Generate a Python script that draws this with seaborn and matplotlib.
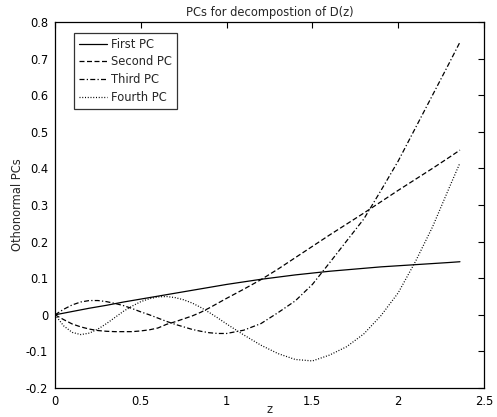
import matplotlib
matplotlib.use("Agg")
import matplotlib.pyplot as plt
from matplotlib.ticker import FuncFormatter
import seaborn as sns
import pandas as pd

# z grid of the read-off points
z = [0, 0.05, 0.1, 0.15, 0.2, 0.25, 0.3, 0.35, 0.4, 0.45, 0.5,
     0.55, 0.6, 0.65, 0.7, 0.75, 0.8, 0.85, 0.9, 0.95, 1.0,
     1.1, 1.2, 1.3, 1.4, 1.5, 1.6, 1.7, 1.8, 1.9, 2.0, 2.1, 2.2, 2.3, 2.36]

first_pc = [0, 0.0045, 0.009, 0.0135, 0.018, 0.022, 0.026, 0.0305, 0.035, 0.039, 0.043,
            0.047, 0.051, 0.055, 0.059, 0.063, 0.067, 0.071, 0.075, 0.079, 0.083,
            0.09, 0.097, 0.103, 0.109, 0.114, 0.119, 0.123, 0.127, 0.131, 0.134, 0.137, 0.14, 0.143, 0.145]
second_pc = [0, -0.013, -0.025, -0.033, -0.039, -0.043, -0.045, -0.046, -0.046, -0.046, -0.044,
             -0.041, -0.036, -0.026, -0.019, -0.011, -0.003, 0.007, 0.019, 0.032, 0.045,
             0.07, 0.096, 0.125, 0.156, 0.187, 0.218, 0.248, 0.278, 0.309, 0.34, 0.37, 0.4, 0.431, 0.45]
third_pc = [0, 0.015, 0.027, 0.035, 0.039, 0.039, 0.036, 0.031, 0.025, 0.017, 0.008,
            0.0, -0.009, -0.018, -0.026, -0.033, -0.04, -0.045, -0.049, -0.051, -0.051,
            -0.042, -0.024, 0.006, 0.038, 0.083, 0.142, 0.202, 0.262, 0.34, 0.42, 0.51, 0.6, 0.69, 0.745]
fourth_pc = [0, -0.03, -0.048, -0.054, -0.05, -0.039, -0.024, -0.007, 0.01, 0.024, 0.036,
             0.044, 0.049, 0.05, 0.047, 0.041, 0.032, 0.02, 0.006, -0.009, -0.025,
             -0.055, -0.083, -0.106, -0.122, -0.126, -0.11, -0.087, -0.052, -0.002, 0.06, 0.145, 0.24, 0.35, 0.415]

labels = ["First PC", "Second PC", "Third PC", "Fourth PC"]
styles = ["-", (0, (4, 2)), (0, (4, 1.8, 1, 1.8)), (0, (0.8, 1.4))]

sns.set_style("white")
plt.rcParams["font.family"] = ["DejaVu Sans"]
plt.rcParams["axes.unicode_minus"] = False

df = pd.DataFrame({"z": z, "First PC": first_pc, "Second PC": second_pc,
                   "Third PC": third_pc, "Fourth PC": fourth_pc})

fig = plt.figure(figsize=(4.97, 4.17), dpi=100)
ax = fig.add_axes([0.1107, 0.0695, 0.8631, 0.8778])

for lab, ls in zip(labels, styles):
    sns.lineplot(data=df, x="z", y=lab, ax=ax, color="black", linewidth=0.9,
                 linestyle=ls, label=lab)

ax.set_xlim(0, 2.5)
ax.set_ylim(-0.2, 0.8)
ax.set_xticks([0, 0.5, 1, 1.5, 2, 2.5])
ax.set_yticks([-0.2, -0.1, 0, 0.1, 0.2, 0.3, 0.4, 0.5, 0.6, 0.7, 0.8])
fmt = FuncFormatter(lambda v, p: "%g" % round(v, 2))
ax.xaxis.set_major_formatter(fmt)
ax.yaxis.set_major_formatter(fmt)
ax.tick_params(direction="in", length=4, width=0.8, top=True, right=True,
               labelsize=8.3, colors="black", pad=5)
for s in ax.spines.values():
    s.set_color("black")
    s.set_linewidth(0.9)

ax.set_title("PCs for decompostion of D(z)", fontsize=8.3, pad=4)
ax.set_xlabel("z", fontsize=8.3, labelpad=-3.5)
ax.set_ylabel("Othonormal PCs", fontsize=8.3, labelpad=1)

leg = ax.legend(loc="upper left", bbox_to_anchor=(0.044, 0.97), fontsize=8.3,
                frameon=True, fancybox=False, handlelength=2.5, handletextpad=0.35,
                labelspacing=0.42, borderpad=0.4, borderaxespad=0)
leg.get_frame().set_edgecolor("black")
leg.get_frame().set_linewidth(0.9)

fig.savefig("out.png", dpi=100)
